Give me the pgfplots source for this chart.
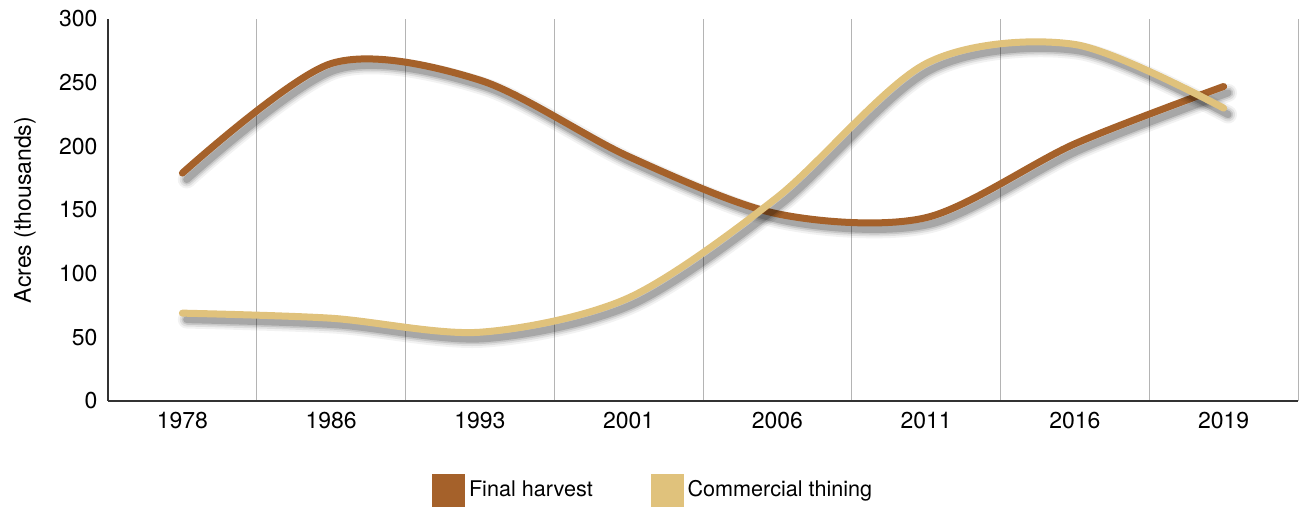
\documentclass[border=0pt]{standalone}
\usepackage{pgfplots}
\pgfplotsset{compat=1.18}
\usepackage{pgfplotstable}
\usepackage{fontspec}
\setmainfont{TeX Gyre Heros}
\definecolor{fh}{HTML}{A5612A}
\definecolor{ct}{HTML}{E0C27C}
\definecolor{gridc}{HTML}{B4B4B4}
\definecolor{axc}{HTML}{333333}

\pgfplotstableread{
x fh ct
0 179 69
1 265 65
2 252 54
3 192 81
4 147 160
5 144 265
6 202 280
7 247 230
}\data

\begin{document}
\begin{tikzpicture}
\useasboundingbox (-54pt,-53pt) rectangle (596.5pt,200.5pt);
\begin{axis}[
  at={(0,0)}, anchor=south west,
  scale only axis, width=595pt, height=191pt,
  xmin=-0.5, xmax=7.5, ymin=0, ymax=300,
  xtick={0,...,7},
  xticklabels={1978,1986,1993,2001,2006,2011,2016,2019},
  ytick={0,50,...,300},
  /pgf/number format/assume math mode=true,
  minor xtick={0.5,1.5,...,7.5},
  xminorgrids,
  minor x grid style={gridc, line width=0.5pt},
  major tick length=0pt, minor tick length=0pt,
  axis x line*=bottom, axis y line*=left,
  axis line style={axc, line width=1pt},
  tick label style={font=\fontsize{11.5}{13}\selectfont, text=black},
  yticklabel style={xshift=-1.7pt},
  xticklabel style={yshift=-2pt},
  ylabel={Acres (thousands)},
  ylabel style={at={(axis description cs:-0.0697,0.5)}, anchor=center, font=\fontsize{11.5}{13}\selectfont},
  clip=false,
  legend columns=2,
  legend style={draw=none, fill=none, at={(axis description cs:0.459,-0.233)}, anchor=center,
    font=\fontsize{10.8}{13}\selectfont,
    /tikz/every even column/.append style={column sep=27pt}},
  shadow/.style={black, opacity=#1, line cap=round, line join=round, smooth, forget plot, xshift=2.2pt, yshift=-3.2pt},
]
\addlegendimage{legend image code/.code={\fill[fh] (-2pt,-8pt) rectangle (14pt,8pt);}}
\addlegendentry{Final harvest}
\addlegendimage{legend image code/.code={\fill[ct] (-2pt,-8pt) rectangle (14pt,8pt);}}
\addlegendentry{Commercial thining}

\addplot[shadow=0.05, line width=9pt] table[x=x,y=fh]{\data};
\addplot[shadow=0.08, line width=7pt] table[x=x,y=fh]{\data};
\addplot[shadow=0.11, line width=5.2pt] table[x=x,y=fh]{\data};
\addplot[shadow=0.16, line width=3.6pt] table[x=x,y=fh]{\data};
\addplot[fh, line width=3.5pt, smooth, line cap=round, forget plot] table[x=x,y=fh]{\data};

\addplot[shadow=0.05, line width=9pt] table[x=x,y=ct]{\data};
\addplot[shadow=0.08, line width=7pt] table[x=x,y=ct]{\data};
\addplot[shadow=0.11, line width=5.2pt] table[x=x,y=ct]{\data};
\addplot[shadow=0.16, line width=3.6pt] table[x=x,y=ct]{\data};
\addplot[ct, line width=3.5pt, smooth, line cap=round, forget plot] table[x=x,y=ct]{\data};
\end{axis}
\end{tikzpicture}
\end{document}
